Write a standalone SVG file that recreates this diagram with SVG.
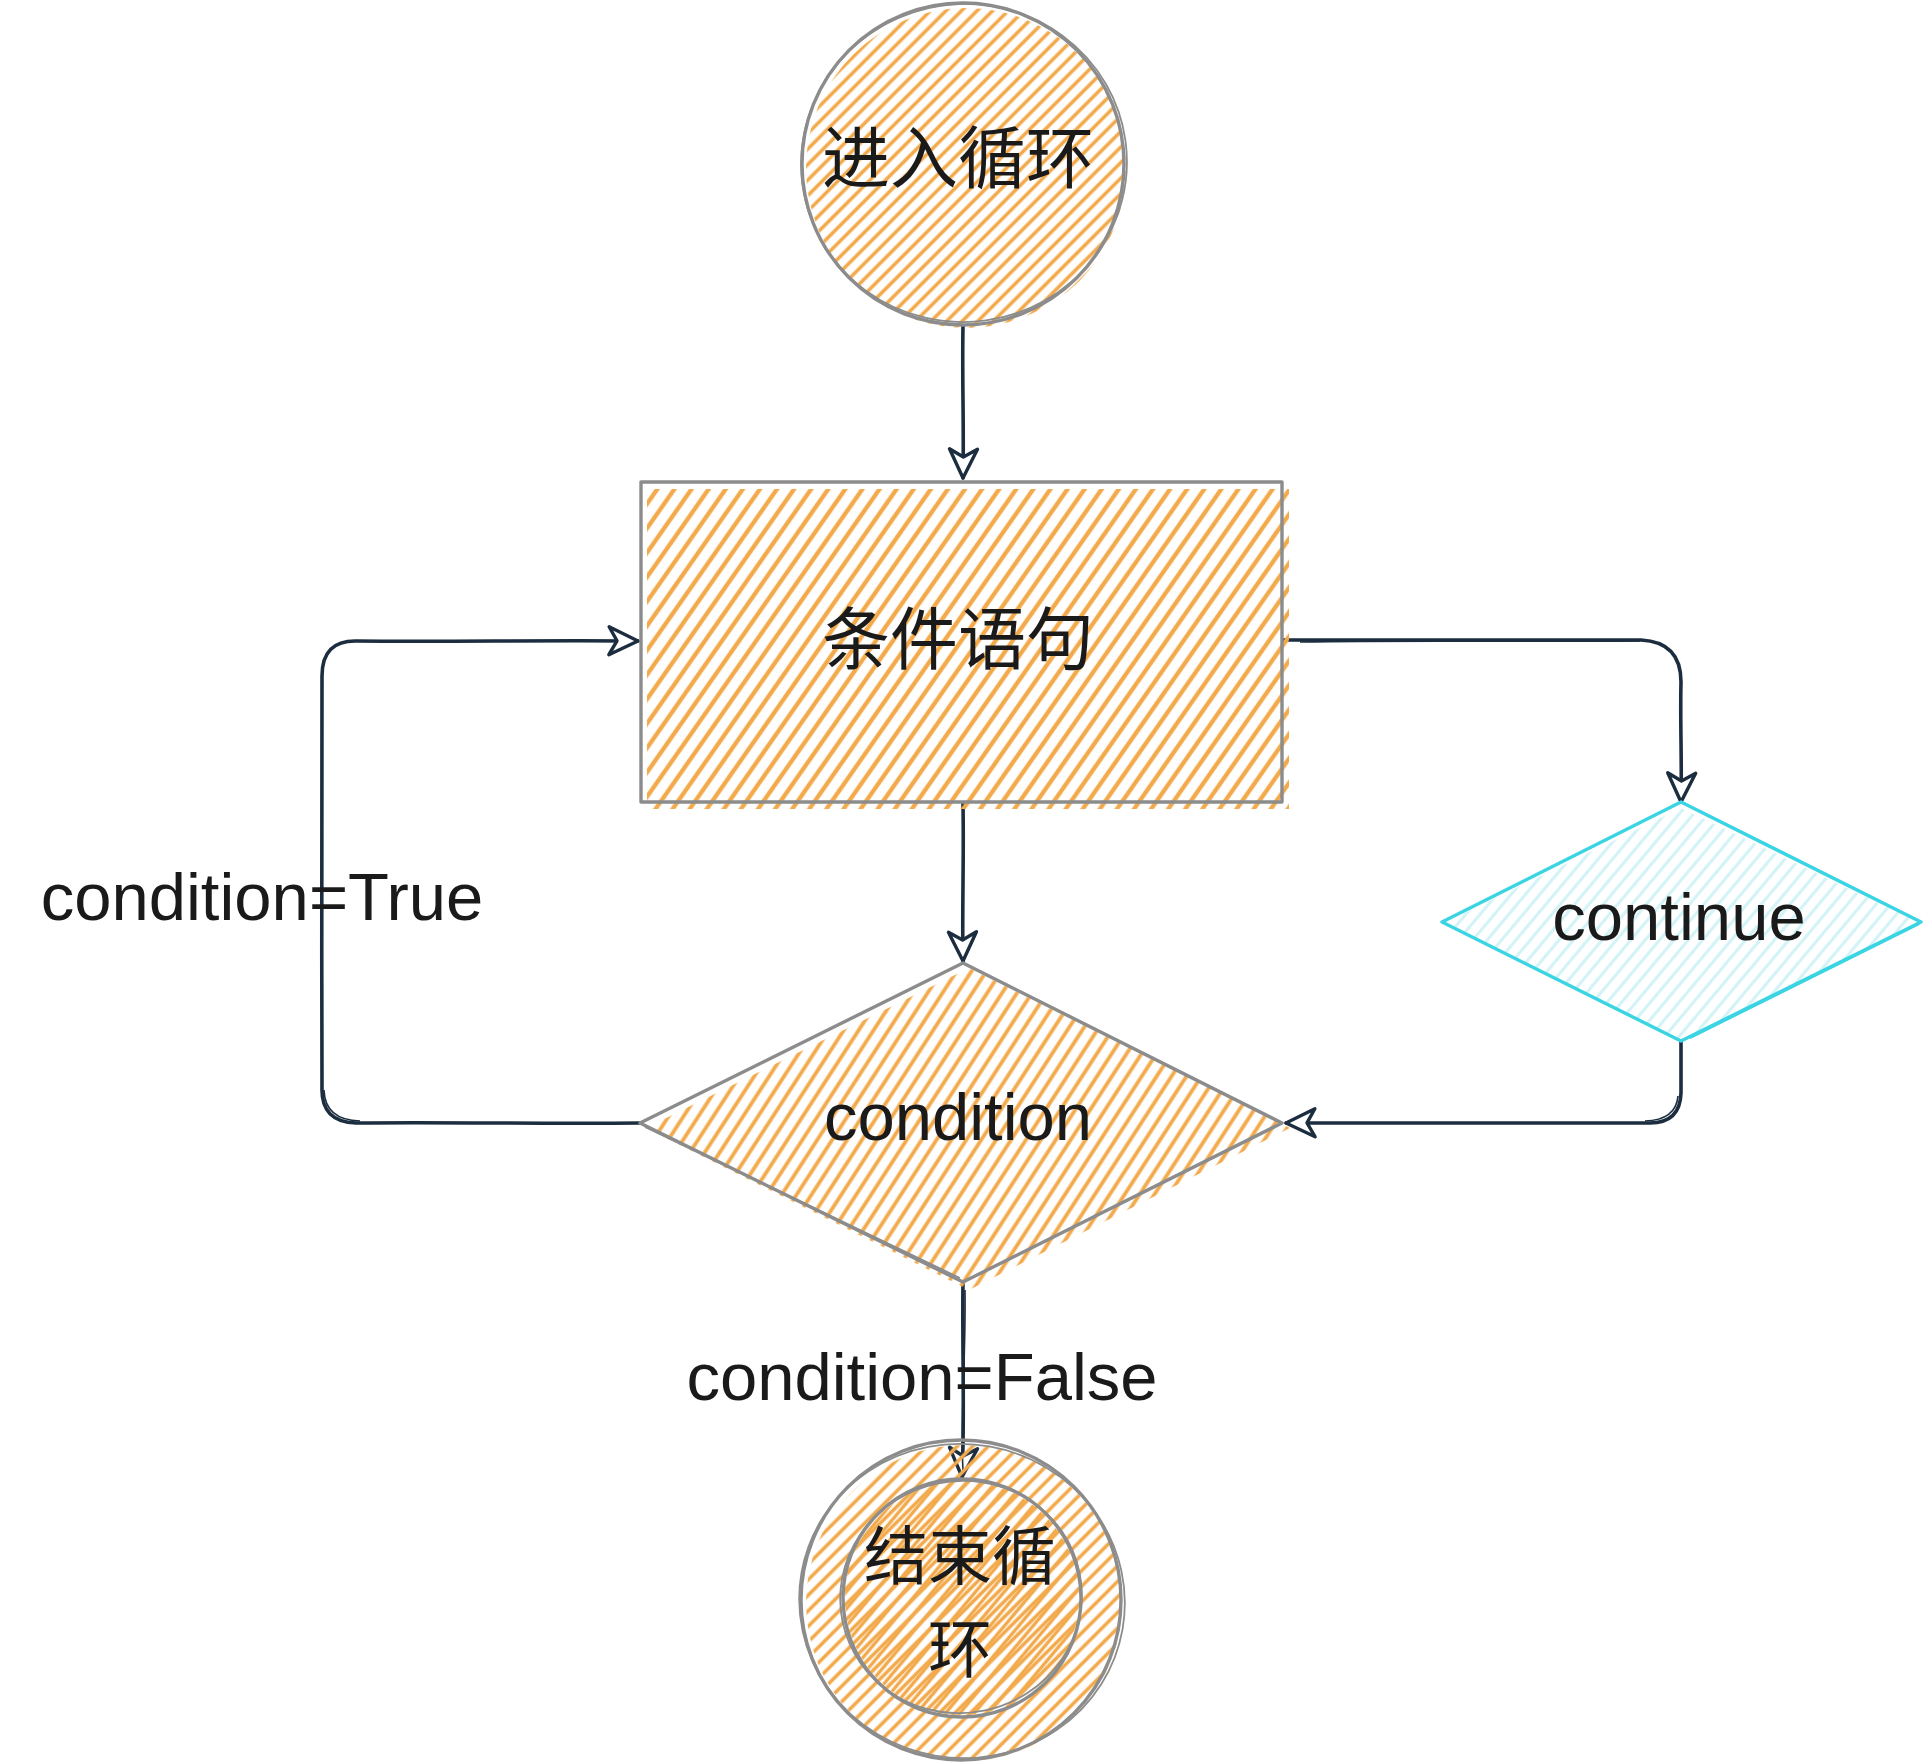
<svg xmlns="http://www.w3.org/2000/svg" width="1924" height="1764" viewBox="0 0 1924 1764">
<style>
.txt{font-family:"Liberation Sans","Noto Sans CJK SC",sans-serif;font-size:67px;fill:#1a1a1a;text-anchor:middle}
.cjk{font-family:"Noto Sans CJK SC","Liberation Sans",sans-serif;font-size:68px;fill:#1a1a1a;text-anchor:middle}
.outline{fill:none;stroke:#8c8c8c;stroke-width:3.4;stroke-linejoin:round}
.outline2{fill:none;stroke:#8c8c8c;stroke-width:1.8}
.edge{fill:none;stroke:#1b2d3e;stroke-width:3.6;stroke-linecap:round;stroke-linejoin:round}
.edge2{fill:none;stroke:#1b2d3e;stroke-width:1.6}
</style>
<defs>
<pattern id="hCirc" patternUnits="userSpaceOnUse" width="11" height="11" patternTransform="rotate(45)"><line x1="5.5" y1="0" x2="5.5" y2="11" stroke="#f2aa4c" stroke-width="3.6"/></pattern>
<pattern id="hCirc2" patternUnits="userSpaceOnUse" width="11" height="11" patternTransform="rotate(40) translate(5,0)"><line x1="5.5" y1="0" x2="5.5" y2="11" stroke="#f2aa4c" stroke-width="3.4"/></pattern>
<pattern id="hRect" patternUnits="userSpaceOnUse" width="14" height="14" patternTransform="rotate(35)"><line x1="7" y1="0" x2="7" y2="14" stroke="#f2aa4c" stroke-width="4.4"/></pattern>
<pattern id="hDia" patternUnits="userSpaceOnUse" width="12.5" height="12.5" patternTransform="rotate(33)"><line x1="6.25" y1="0" x2="6.25" y2="12.5" stroke="#f2aa4c" stroke-width="3.8"/></pattern>
<pattern id="hCyan" patternUnits="userSpaceOnUse" width="11" height="11" patternTransform="rotate(40)"><line x1="5.5" y1="0" x2="5.5" y2="11" stroke="#d4f3f6" stroke-width="3.2"/></pattern>
<marker id="arr" viewBox="0 0 36 36" markerWidth="36" markerHeight="36" markerUnits="userSpaceOnUse" refX="33" refY="18" orient="auto">
<path d="M4,4 L33,18 L4,32 L12,18 Z" fill="#ffffff" stroke="#1b2d3e" stroke-width="3.4" stroke-linejoin="round"/>
</marker>
</defs>
<rect width="1924" height="1764" fill="#ffffff"/>

<g id="edges">
<path class="edge" d="M963,326 C962,380 964,420 963,478" marker-end="url(#arr)"/>
<path class="edge" d="M963,804 C964,860 962,910 963,961" marker-end="url(#arr)"/>
<path class="edge" d="M1284,640 C1400,641 1520,639 1641,640 Q1681,642 1681,682 C1680,720 1682,760 1681,802" marker-end="url(#arr)"/>
<path class="edge2" d="M1300,642 C1420,640 1520,642 1640,641"/>
<path class="edge" d="M1681,1042 L1681,1093 Q1680,1123 1650,1123 C1520,1124 1400,1122 1286,1123" marker-end="url(#arr)"/>
<path class="edge2" d="M1678,1096 Q1676,1120 1645,1121"/>
<path class="edge" d="M640,1123 C540,1124 450,1122 356,1123 Q321,1122 322,1088 C321,950 323,800 322,676 Q322,640 357,641 C450,642 540,640 638,641" marker-end="url(#arr)"/>
<path class="edge2" d="M324,1090 Q325,1120 360,1121"/>
<path class="edge" d="M963,1283 C962,1350 965,1420 962,1477" marker-end="url(#arr)"/>
<path class="edge2" d="M965,1290 C966,1360 960,1420 963,1470"/>
<text class="txt" x="262" y="920">condition=True</text>
<text class="txt" x="922" y="1400">condition=False</text>
</g>

<g id="node-start">
<circle cx="966" cy="168" r="160" fill="url(#hCirc)"/>
<circle class="outline" cx="963" cy="164" r="161"/>
<ellipse class="outline2" cx="964" cy="163" rx="163" ry="159" transform="rotate(-8 964 163)"/>
<text class="cjk" x="958" y="183">进入循环</text>
</g>

<g id="node-stmt">
<rect x="647" y="489" width="642" height="320" fill="url(#hRect)"/>
<rect class="outline" x="641" y="482" width="641" height="320"/>
<text class="cjk" x="958" y="664">条件语句</text>
</g>

<g id="node-cond">
<polygon points="646,1128 969,968 1290,1128 969,1290" fill="url(#hDia)"/>
<polygon class="outline" points="640,1123 963,963 1282,1123 963,1282"/>
<path class="outline2" d="M645,1127 L960,1278"/>
<text class="txt" x="958" y="1140">condition</text>
</g>

<g id="node-continue">
<polygon points="1446,922 1681,808 1918,922 1683,1042" fill="url(#hCyan)"/>
<polygon fill="none" stroke="#3bd4e3" stroke-width="3.4" stroke-linejoin="round" points="1442,922 1681,802 1921,922 1681,1041"/>
<path fill="none" stroke="#3bd4e3" stroke-width="2.2" d="M1919,924 L1690,1038"/>
<text class="txt" x="1679" y="940">continue</text>
</g>

<g id="node-end">
<circle cx="964" cy="1603" r="158" fill="url(#hCirc)"/>
<circle cx="962" cy="1598" r="117" fill="url(#hCirc2)"/>
<circle class="outline" cx="961" cy="1600" r="160"/>
<ellipse class="outline2" cx="962" cy="1601" rx="163" ry="157" transform="rotate(10 962 1601)"/>
<circle class="outline" cx="962" cy="1598" r="119"/>
<ellipse class="outline2" cx="961" cy="1597" rx="121" ry="116" transform="rotate(-12 961 1597)"/>
<text class="cjk" style="font-size:64px" x="960" y="1579"><tspan x="960" y="1579">结束循</tspan><tspan x="960" y="1672">环</tspan></text>
</g>
</svg>
